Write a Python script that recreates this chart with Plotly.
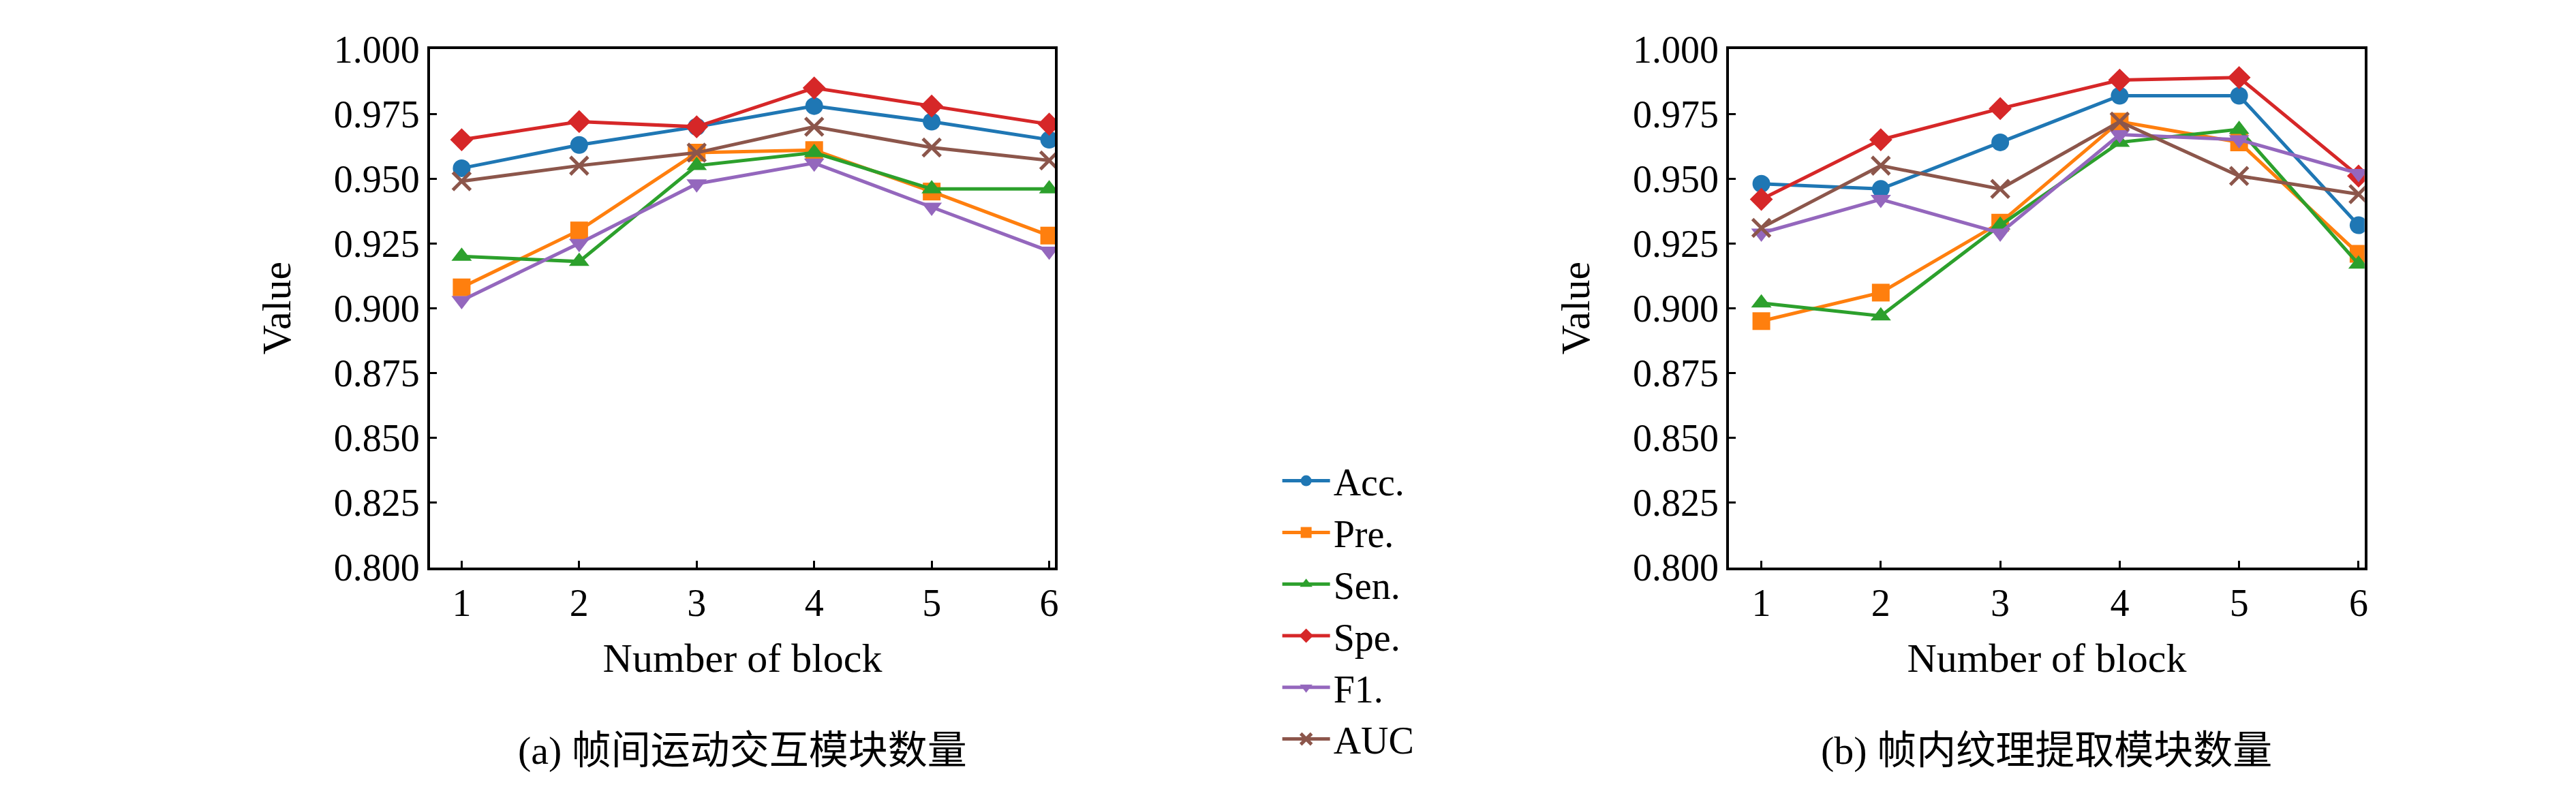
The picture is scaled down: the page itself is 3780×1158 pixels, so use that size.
import plotly.graph_objects as go

blocks = [1, 2, 3, 4, 5, 6]
metric_names = ["Acc.", "Pre.", "Sen.", "Spe.", "F1.", "AUC"]

# (a) inter-frame motion interaction blocks
acc_a = [0.954, 0.963, 0.970, 0.978, 0.972, 0.965]
pre_a = [0.908, 0.930, 0.960, 0.961, 0.945, 0.928]
sen_a = [0.920, 0.918, 0.955, 0.960, 0.946, 0.946]
spe_a = [0.965, 0.972, 0.970, 0.985, 0.978, 0.971]
f1_a = [0.903, 0.925, 0.948, 0.956, 0.939, 0.922]
auc_a = [0.949, 0.955, 0.960, 0.970, 0.962, 0.957]

# (b) intra-frame texture extraction blocks
acc_b = [0.948, 0.946, 0.964, 0.982, 0.982, 0.932]
pre_b = [0.895, 0.906, 0.933, 0.972, 0.964, 0.921]
sen_b = [0.902, 0.897, 0.932, 0.964, 0.969, 0.917]
spe_b = [0.942, 0.965, 0.977, 0.988, 0.989, 0.951]
f1_b = [0.929, 0.942, 0.929, 0.967, 0.965, 0.952]
auc_b = [0.931, 0.955, 0.946, 0.972, 0.951, 0.944]

y_ticks = [0.800, 0.825, 0.850, 0.875, 0.900, 0.925, 0.950, 0.975, 1.000]

colors = ["#1f77b4", "#ff7f0e", "#2ca02c", "#d62728", "#9467bd", "#8c564b"]
symbols = ["circle", "square", "triangle-up", "diamond", "triangle-down", "x-thin"]
SERIF = "Liberation Serif, DejaVu Serif, serif"

fig = go.Figure()
panels = [
    ("x", "y", [acc_a, pre_a, sen_a, spe_a, f1_a, auc_a], True),
    ("x2", "y2", [acc_b, pre_b, sen_b, spe_b, f1_b, auc_b], False),
]
for xa, ya, series, show in panels:
    for name, vals, c, s in zip(metric_names, series, colors, symbols):
        fig.add_trace(go.Scatter(
            x=blocks, y=vals, mode="lines+markers", name=name,
            xaxis=xa, yaxis=ya, showlegend=show,
            line=dict(color=c, width=5),
            marker=dict(color=c, symbol=s, size=26,
                        line=dict(color=c, width=5) if s == "x-thin" else dict(width=0)),
        ))

axis_common = dict(
    showline=True, linecolor="black", linewidth=4, mirror=True,
    showgrid=False, zeroline=False, ticks="inside", ticklen=10, tickwidth=3,
    tickcolor="black", tickfont=dict(family=SERIF, size=56, color="black"),
)
title_font = dict(family=SERIF, size=60, color="black")
fig.update_layout(
    width=3780, height=1158,
    margin=dict(l=0, r=0, t=0, b=0),
    paper_bgcolor="white", plot_bgcolor="white",
    xaxis=dict(domain=[0.165, 0.408], range=[0.73, 6.05], tickvals=blocks, anchor="y",
               title=dict(text="Number of block", font=title_font, standoff=30),
               **axis_common),
    yaxis=dict(domain=[0.275, 0.969], range=[0.8, 1.0], tickvals=y_ticks, tickformat=".3f", anchor="x",
               title=dict(text="Value", font=title_font, standoff=45),
               **axis_common),
    xaxis2=dict(domain=[0.670, 0.917], range=[0.73, 6.05], tickvals=blocks, anchor="y2",
                title=dict(text="Number of block", font=title_font, standoff=30),
                **axis_common),
    yaxis2=dict(domain=[0.275, 0.969], range=[0.8, 1.0], tickvals=y_ticks, tickformat=".3f", anchor="x2",
                title=dict(text="Value", font=title_font, standoff=45),
                **axis_common),
    legend=dict(x=0.495, y=0.43, xanchor="left", yanchor="top",
                font=dict(family=SERIF, size=56, color="black"),
                itemwidth=70, tracegroupgap=0, bgcolor="rgba(0,0,0,0)"),
)

cap_font = dict(family="Liberation Serif, Noto Sans CJK SC", size=58, color="black")
fig.add_annotation(text="(a) 帧间运动交互模块数量", x=0.2865, y=0.03, xref="paper", yref="paper",
                   showarrow=False, font=cap_font, xanchor="center", yanchor="middle")
fig.add_annotation(text="(b) 帧内纹理提取模块数量", x=0.7935, y=0.03, xref="paper", yref="paper",
                   showarrow=False, font=cap_font, xanchor="center", yanchor="middle")

fig.write_html("out.html")
